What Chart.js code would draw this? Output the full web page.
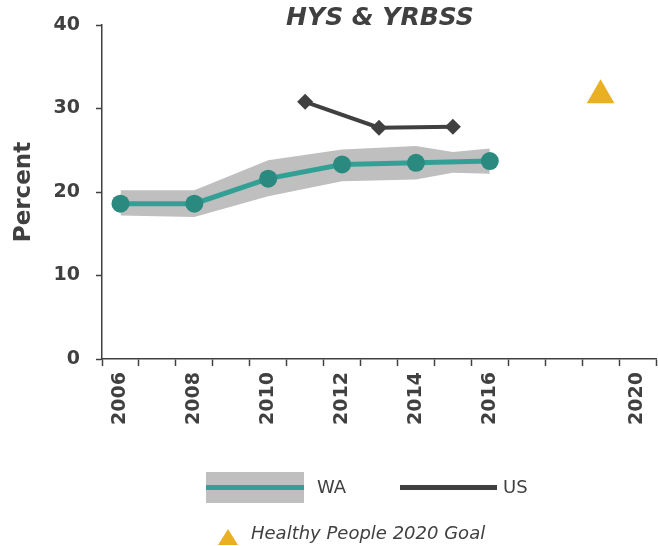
<!DOCTYPE html>
<html>
<head>
<meta charset="utf-8">
<script src="https://cdn.jsdelivr.net/npm/chart.js@4"></script>
<style>
  body { margin: 0; background: #fff; overflow: hidden; }
  #wrap { position: relative; width: 658px; height: 546px; overflow: hidden; font-family: "DejaVu Sans", sans-serif; color: #404040; }
  #title { position: absolute; left: 230px; width: 300px; top: 2px; text-align: center; font-size: 25px; font-weight: bold; font-style: italic; }
  .leg { position: absolute; font-size: 18px; }
  .sw { position: absolute; }
</style>
</head>
<body>
<div id="wrap">
  <canvas id="Chart1" width="672" height="546"></canvas>
  <div id="title">HYS &amp; YRBSS</div>
  <div class="sw" style="left:206px;top:472px;width:98px;height:31px;background:#bfbfbf;"></div>
  <div class="sw" style="left:206px;top:485px;width:98px;height:5px;background:#33a095;"></div>
  <div class="leg" style="left:317px;top:476px;">WA</div>
  <div class="sw" style="left:400px;top:485px;width:97px;height:5px;background:#404040;"></div>
  <div class="leg" style="left:503px;top:476px;">US</div>
  <svg class="sw" style="left:217px;top:528px;" width="22" height="18"><polygon points="11,1 21,17 1,17" fill="#eab024"/></svg>
  <div class="leg" style="left:251px;top:522px;font-style:italic;">Healthy People 2020 Goal</div>
</div>
<script>
// years on the x axis (one category per year)
var years = ["2006", "2007", "2008", "2009", "2010", "2011", "2012", "2013", "2014", "2015", "2016", "2017", "2018", "2019", "2020"];
var shownYears = ["2006", "2008", "2010", "2012", "2014", "2016", "2020"];

// WA (HYS)
var waValues = [18.6, null, 18.6, null, 21.6, null, 23.3, null, 23.5, null, 23.7, null, null, null, null];
var waLow = [17.2, null, 17.0, null, 19.5, null, 21.3, null, 21.5, 22.3, 22.2, null, null, null, null];
var waHigh = [20.2, null, 20.2, null, 23.8, null, 25.1, null, 25.5, 24.8, 25.2, null, null, null, null];

// US (YRBSS)
var usValues = [null, null, null, null, null, 30.8, null, 27.7, null, 27.8, null, null, null, null, null];

// Healthy People 2020 goal
var goalValues = [null, null, null, null, null, null, null, null, null, null, null, null, null, 31.6, null];

var yTicks = [0, 10, 20, 30, 40];

var tickFont = { family: "DejaVu Sans", size: 19, weight: "bold" };

var ctx = document.getElementById("Chart1").getContext("2d");
var myChart = new Chart(ctx, {
  type: "line",
  data: {
    labels: years,
    datasets: [
      {
        label: "WA",
        data: waValues,
        borderColor: "#33a095",
        backgroundColor: "#2b8a80",
        borderWidth: 5,
        pointRadius: 9,
        pointBorderWidth: 0,
        pointBackgroundColor: "#2b8a80",
        spanGaps: true,
        fill: false,
      },
      {
        label: "US",
        data: usValues,
        borderColor: "#404040",
        backgroundColor: "#404040",
        borderWidth: 4,
        pointStyle: "rectRot",
        pointRadius: 8,
        pointBorderWidth: 0,
        spanGaps: true,
        fill: false,
      },
      {
        label: "Healthy People 2020 Goal",
        data: goalValues,
        showLine: false,
        pointStyle: "triangle",
        pointRadius: 16,
        pointBorderWidth: 0,
        backgroundColor: "#eab024",
        borderColor: "#eab024",
      },
      {
        label: "WA high",
        data: waHigh,
        borderWidth: 0,
        pointRadius: 0,
        spanGaps: true,
        backgroundColor: "#bfbfbf",
        fill: "+1",
      },
      {
        label: "WA low",
        data: waLow,
        borderWidth: 0,
        pointRadius: 0,
        spanGaps: true,
        fill: false,
      },
    ],
  },
  options: {
    responsive: false,
    animation: false,
    layout: { padding: { top: 25, right: 2, bottom: 117, left: 0 } },
    plugins: {
      legend: { display: false },
      tooltip: { enabled: false },
    },
    scales: {
      x: {
        offset: true,
        grid: {
          offset: true,
          drawOnChartArea: false,
          tickLength: 7,
          color: "#404040",
          tickWidth: 1.5,
        },
        border: { color: "#404040", width: 1.5 },
        ticks: {
          autoSkip: false,
          minRotation: 90,
          maxRotation: 90,
          padding: 6,
          color: "#404040",
          font: tickFont,
          callback: function (value, index) {
            return shownYears.indexOf(years[index]) >= 0 ? years[index] : "";
          },
        },
        afterFit: function (scale) {
          scale.height = 70;
        },
      },
      y: {
        min: 0,
        max: 40,
        afterBuildTicks: function (scale) {
          scale.ticks = yTicks.map(function (v) { return { value: v }; });
        },
        grid: {
          drawOnChartArea: false,
          tickLength: 6,
          color: "#404040",
          tickWidth: 1.5,
        },
        border: { color: "#404040", width: 1.5 },
        ticks: { padding: 16, color: "#404040", font: tickFont },
        title: {
          display: true,
          text: "Percent",
          color: "#404040",
          padding: { top: 10, bottom: 0 },
          font: { family: "DejaVu Sans", size: 23, weight: "bold" },
        },
        afterFit: function (scale) {
          scale.width = 102;
          scale.paddingTop = 0;
          scale.paddingBottom = 0;
        },
      },
    },
  },
});
</script>
</body>
</html>
